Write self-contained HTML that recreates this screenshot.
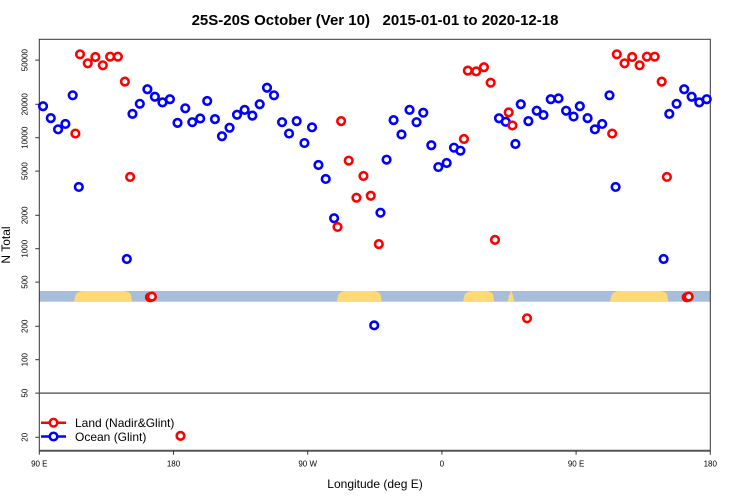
<!DOCTYPE html>
<html><head><meta charset="utf-8"><style>
body{margin:0;background:#fff}
svg{display:block;font-family:"Liberation Sans",sans-serif}
</style></head><body>
<svg id="chart" width="750" height="500" viewBox="0 0 750 500">
<text x="375" y="25" text-anchor="middle" font-size="15" font-weight="bold" style="white-space:pre">25S-20S October (Ver 10)   2015-01-01 to 2020-12-18</text>
<g id="band"></g>
<g id="axes"></g>
<g id="marks"></g>
<text x="375" y="488" text-anchor="middle" font-size="12">Longitude (deg E)</text>
<text transform="translate(10,245) rotate(-90)" text-anchor="middle" font-size="12">N Total</text>
<g>
<g>
<line x1="41" y1="422.7" x2="66" y2="422.7" stroke="#f00" stroke-width="2.5"/>
<circle cx="53.5" cy="422.7" r="3.8" fill="#fff" stroke="#f00" stroke-width="2.5"/>
<text x="75" y="427" font-size="12">Land (Nadir&amp;Glint)</text></g>
<g>
<line x1="41" y1="436.5" x2="66" y2="436.5" stroke="#00f" stroke-width="2.5"/>
<circle cx="53.5" cy="436.5" r="3.8" fill="#fff" stroke="#00f" stroke-width="2.5"/>
<text x="75" y="441" font-size="12">Ocean (Glint)</text></g>
</g>
</svg>
<script>
const yTicks=[50000,20000,10000,5000,2000,1000,500,200,100,50,20];
const xTickLons=[90,180,270,360,450,540];
const xTickLabels=["90 E","180","90 W","0","90 E","180"];
const oceanLon=[92.5,97.7,102.6,107.5,112.4,116.5,148.7,152.5,157.4,162.5,167.5,172.6,177.6,-177.3,-172.1,-167.4,-162.1,-157.4,-152.2,-147.5,-142.4,-137.4,-132.3,-127.1,-122.2,-117.3,-112.6,-107.2,-102.5,-97.4,-92.2,-87.1,-82.8,-77.9,-72.3,-45.4,-41.2,-37.1,-32.4,-27.1,-21.7,-17.0,-12.5,-7.1,-2.4,3.2,8.1,12.4,38.3,42.8,49.3,52.9,58.0,63.6,68.1,73.0,78.2,83.3,88.3];
const oceanVal=[19200,15000,11900,13300,24100,3600,807,16400,20200,27300,23400,20800,22200,13600,18400,13800,14900,21400,14700,10300,12300,16100,17800,15800,20000,28200,24100,13800,10900,14100,8950,12400,5680,4250,1880,204,2110,6340,14400,10700,17800,13800,16800,8550,5440,5920,8130,7640,14960,13900,8770,20000,14100,17500,16000,22200,22600,17500,15500];
const landLon=[114.2,117.3,122.5,127.6,132.6,137.5,142.7,147.4,150.9,164.2,165.5,-175.3,-70,-67.6,-62.5,-57.3,-52.6,-47.7,-42.3,14.8,17.4,23.0,28.2,32.7,35.6,44.8,47.3,57.1];
const landVal=[10900,56400,46800,53300,44900,53700,53700,32000,4430,365,370,20.6,1570,14100,6210,2880,4520,3000,1100,9730,40200,39600,43100,31300,1200,16900,12900,236];
const NS="http://www.w3.org/2000/svg";
const X0=39.3,X1=710.3,Y0=39.3,Y1=450.7;
function xRel(rel){return X0+rel*(X1-X0)/450;}
function yS(v){return 248.7-111*Math.log10(v/1000);}
function mk(tag,attrs,parent){const e=document.createElementNS(NS,tag);for(const k in attrs)e.setAttribute(k,attrs[k]);parent.appendChild(e);return e;}
const axes=document.getElementById('axes'),marks=document.getElementById('marks'),band=document.getElementById('band');
let r=mk('rect',{x:X0,y:291,width:X1-X0,height:10.7,fill:'#a6bddb'},band);


const landSeg=[[74,132],[336.7,381.7],[463,494.3],[507.7,514],[610,668.3]];
landSeg.forEach(s=>{
 const p=mk('path',{d:`M${s[0]},301.7 L${s[0]+1.5},295 Q${s[0]+4},291 ${s[0]+9>s[1]?s[0]+2:s[0]+9},291 L${s[1]-9>s[0]?s[1]-9:s[1]-2},291 Q${s[1]-3},291 ${s[1]-1},295 L${s[1]},301.7 Z`,fill:'#fed976'},band);
 
 
});
let f=mk('rect',{x:X0,y:Y0,width:X1-X0,height:Y1-Y0,fill:'none',stroke:'#333',"stroke-width":1},axes);


let bl=mk('line',{x1:X0,y1:Y1,x2:X1,y2:Y1,stroke:'#555',"stroke-width":2},axes);


let hl=mk('line',{x1:X0,y1:yS(50),x2:X1,y2:yS(50),stroke:'#666',"stroke-width":1.5},axes);


yTicks.forEach(v=>{
 const y=yS(v);
 mk('line',{x1:X0-4,y1:y,x2:X0,y2:y,stroke:'#333'},axes);
 const t=mk('text',{transform:`translate(${X0-12},${y}) rotate(-90)`,"text-anchor":"middle","font-size":8},axes);
 t.textContent=v;
 
 
});
xTickLons.forEach((l,i)=>{
 const x=xRel(l-90);
 mk('line',{x1:x,y1:Y1,x2:x,y2:Y1+4,stroke:'#333'},axes);
 const t=mk('text',{x:x,y:Y1+16,"text-anchor":"middle","font-size":8},axes);
 t.textContent=xTickLabels[i];
 
 
});
function plot(lons,vals,color,name){
 lons.forEach((lon,i)=>{
  let rel=lon-90; if(rel<0)rel+=360;
  [rel,rel+360].forEach(rr=>{
   if(rr>450)return;
   const c=mk('circle',{cx:xRel(rr),cy:yS(vals[i]),r:3.8,fill:'#fff',stroke:color,"stroke-width":2.6},marks);
   
   
  });
 });
}
plot(oceanLon,oceanVal,'#0000ff','ocean-point');
plot(landLon,landVal,'#ff0000','land-point');
</script>
</body></html>
